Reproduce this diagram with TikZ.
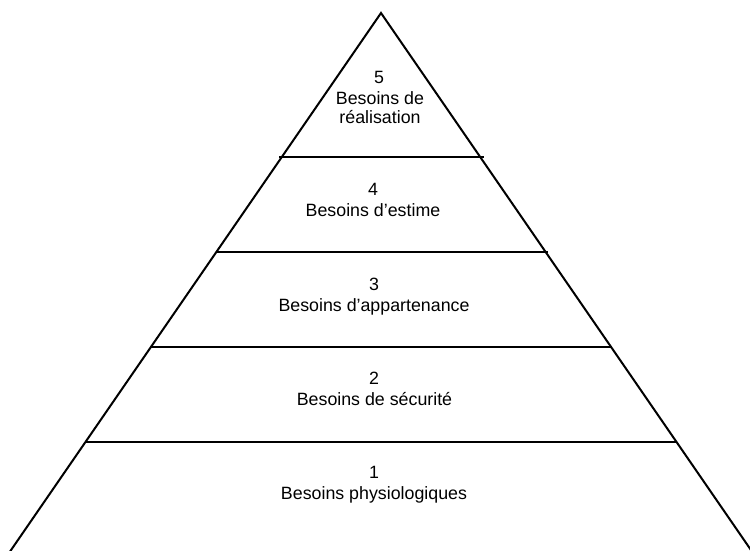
\documentclass[tikz,border=0pt]{standalone}
\usepackage{fontspec}
\setmainfont{Liberation Sans}
\begin{document}
\begin{tikzpicture}[x=1pt,y=-1pt,
  edge/.style={line width=2pt,line cap=round},
  sep/.style={line width=2pt},
  lbl/.style={anchor=base,inner sep=0pt,font=\fontsize{17.8}{20}\selectfont}]
\useasboundingbox (0,0) rectangle (750,551);
\coordinate (apex) at (381,13);
\coordinate (bl) at (9,553);
\coordinate (br) at (753,553);
\draw[edge] (bl) -- (apex) -- (br);
% separators
\coordinate (s1l) at (279,157); \coordinate (s1r) at (484,157);
\coordinate (s2l) at (216,252); \coordinate (s2r) at (548,252);
\coordinate (s3l) at (151,347); \coordinate (s3r) at (612,347);
\coordinate (s4l) at (86,442);  \coordinate (s4r) at (677,442);
\draw[sep] (s1l) -- (s1r);
\draw[sep] (s2l) -- (s2r);
\draw[sep] (s3l) -- (s3r);
\draw[sep] (s4l) -- (s4r);
% labels
\node[lbl] (n5) at (379,84) {5};
\node[lbl] (t5a) at (380,104) {Besoins de};
\node[lbl] (t5b) at (380,124) {réalisation};
\node[lbl] (n4) at (373,195) {4};
\node[lbl] (t4) at (373,216) {Besoins d’estime};
\node[lbl] (n3) at (374,290) {3};
\node[lbl] (t3) at (374,311) {Besoins d’appartenance};
\node[lbl] (n2) at (374,384) {2};
\node[lbl] (t2) at (374.5,405) {Besoins de sécurité};
\node[lbl] (n1) at (374,478) {1};
\node[lbl] (t1) at (374,499) {Besoins physiologiques};
\end{tikzpicture}
\end{document}
